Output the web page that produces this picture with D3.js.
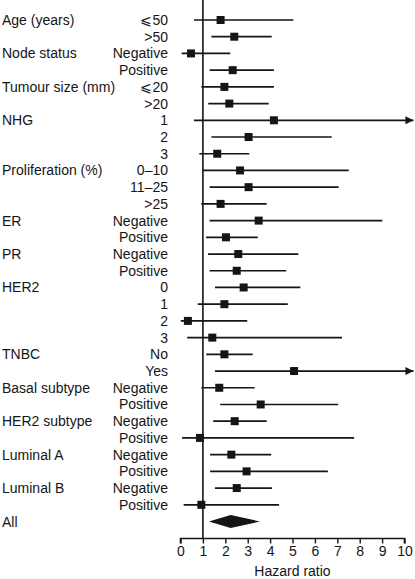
<!DOCTYPE html>
<html>
<head>
<meta charset="utf-8">
<script src="https://cdn.jsdelivr.net/npm/d3@7"></script>
<style>
html,body{margin:0;padding:0;background:#fff;}
svg{display:block;font-family:"Liberation Sans",Arial,Helvetica,sans-serif;}
</style>
</head>
<body>
<svg id="chart" width="415" height="579"></svg>
<script>
// Group label shown on the first row of each group ("" otherwise)
const groups = ["Age (years)","","Node status","","Tumour size (mm)","","NHG","","","Proliferation (%)","","","ER","","PR","","HER2","","","","TNBC","","Basal subtype","","HER2 subtype","","Luminal A","","Luminal B","","All"];
const levels = ["\u2A7D50",">50","Negative","Positive","\u2A7D20",">20","1","2","3","0\u201310","11\u201325",">25","Negative","Positive","Negative","Positive","0","1","2","3","No","Yes","Negative","Positive","Negative","Positive","Negative","Positive","Negative","Positive",""];
const hr    = [1.79,2.40,0.47,2.33,1.96,2.18,4.17,3.04,1.64,2.66,3.04,1.79,3.49,2.03,2.58,2.51,2.82,1.96,0.33,1.42,1.96,5.07,1.73,3.58,2.42,0.87,2.27,2.95,2.51,0.93,2.24];
const lower = [0.60,1.38,0.05,1.30,0.93,1.24,0.60,1.38,0.84,0.97,1.30,0.93,1.30,1.14,1.23,1.30,1.54,0.77,0.01,0.30,1.15,1.54,0.93,1.77,1.46,0.07,1.32,1.32,1.54,0.14,1.27];
// null upper = interval continues beyond the axis (arrow)
const upper = [5.04,4.07,2.22,4.17,4.17,3.94,null,6.75,3.07,7.51,7.06,3.85,9.01,3.45,5.26,4.72,5.35,4.79,2.98,7.21,3.22,null,3.31,7.04,3.85,7.75,4.05,6.58,4.08,4.40,3.55];
const isSummary = [0,0,0,0,0,0,0,0,0,0,0,0,0,0,0,0,0,0,0,0,0,0,0,0,0,0,0,0,0,0,1];
const xTicks = [0,1,2,3,4,5,6,7,8,9,10];
const xTitle = "Hazard ratio";
const refValue = 1;
const arrowEnd = 10.4;

const svg = d3.select("#chart");
const ink = "#151515";

const rows = d3.range(groups.length).map(i => ({
  i, group: groups[i], level: levels[i], hr: hr[i], lo: lower[i], hi: upper[i], summary: isSummary[i] === 1
}));

// Top row centre ~20; last row (All) ~521.5
const y = d3.scalePoint().domain(rows.map(d => d.i)).range([20, 521.5]);
const x = d3.scaleLinear().domain([0, 10]).range([180.5, 404.5]);
const axisY = 538.5;

svg.append("defs").append("marker")
  .attr("id","arrow").attr("viewBox","0 0 10 10").attr("refX",10).attr("refY",5)
  .attr("markerWidth",10).attr("markerHeight",8).attr("markerUnits","userSpaceOnUse")
  .attr("orient","auto")
  .append("path").attr("d","M0,0 L10,5 L0,10 Z").attr("fill", ink);

// Labels
svg.append("g").selectAll("text").data(rows.filter(d => d.group)).join("text")
  .attr("x", 2).attr("y", d => y(d.i) + 5)
  .attr("font-size", 14).attr("fill", ink).text(d => d.group);
svg.append("g").selectAll("text").data(rows.filter(d => d.level)).join("text")
  .attr("x", 168).attr("y", d => y(d.i) + 5).attr("text-anchor","end")
  .attr("font-size", 14).attr("fill", ink).text(d => d.level);

// Reference line
svg.append("line")
  .attr("x1", x(refValue)).attr("x2", x(refValue))
  .attr("y1", 0).attr("y2", axisY)
  .attr("stroke", ink).attr("stroke-width", 1.6);

// Axis
const axis = d3.axisBottom(x).tickValues(xTicks).tickFormat(d3.format("d")).tickSize(5).tickPadding(3);
const ag = svg.append("g").attr("transform", `translate(0,${axisY})`).call(axis);
ag.select(".domain").attr("stroke", ink).attr("stroke-width", 1.6).attr("d", `M${x(0)},5V0H${x(10)}V5`);
ag.selectAll(".tick line").attr("stroke", ink).attr("stroke-width", 1.4);
ag.selectAll(".tick text").attr("font-size", 14).attr("fill", ink)
  .attr("font-family", "'Liberation Sans',Arial,sans-serif");

svg.append("text").attr("x", (x(0)+x(10))/2).attr("y", 576)
  .attr("text-anchor","middle").attr("font-size", 14).attr("fill", ink).text(xTitle);

// CI lines
const est = rows.filter(d => !d.summary);
svg.append("g").selectAll("line").data(est).join("line")
  .attr("x1", d => x(d.lo))
  .attr("x2", d => d.hi == null ? x(arrowEnd) : x(d.hi))
  .attr("y1", d => y(d.i)).attr("y2", d => y(d.i))
  .attr("stroke", ink).attr("stroke-width", 1.7)
  .attr("marker-end", d => d.hi == null ? "url(#arrow)" : null);

// Squares
const s = 8;
svg.append("g").selectAll("rect").data(est).join("rect")
  .attr("x", d => x(d.hr) - s/2).attr("y", d => y(d.i) - s/2)
  .attr("width", s).attr("height", s).attr("fill", ink);

// Summary diamond
const summ = rows.filter(d => d.summary);
svg.append("g").selectAll("path").data(summ).join("path")
  .attr("d", d => {
    const cy = y(d.i);
    return `M${x(d.lo)},${cy}L${x(d.hr)},${cy-6.5}L${x(d.hi)},${cy}L${x(d.hr)},${cy+6.5}Z`;
  })
  .attr("fill", ink);
</script>
</body>
</html>
